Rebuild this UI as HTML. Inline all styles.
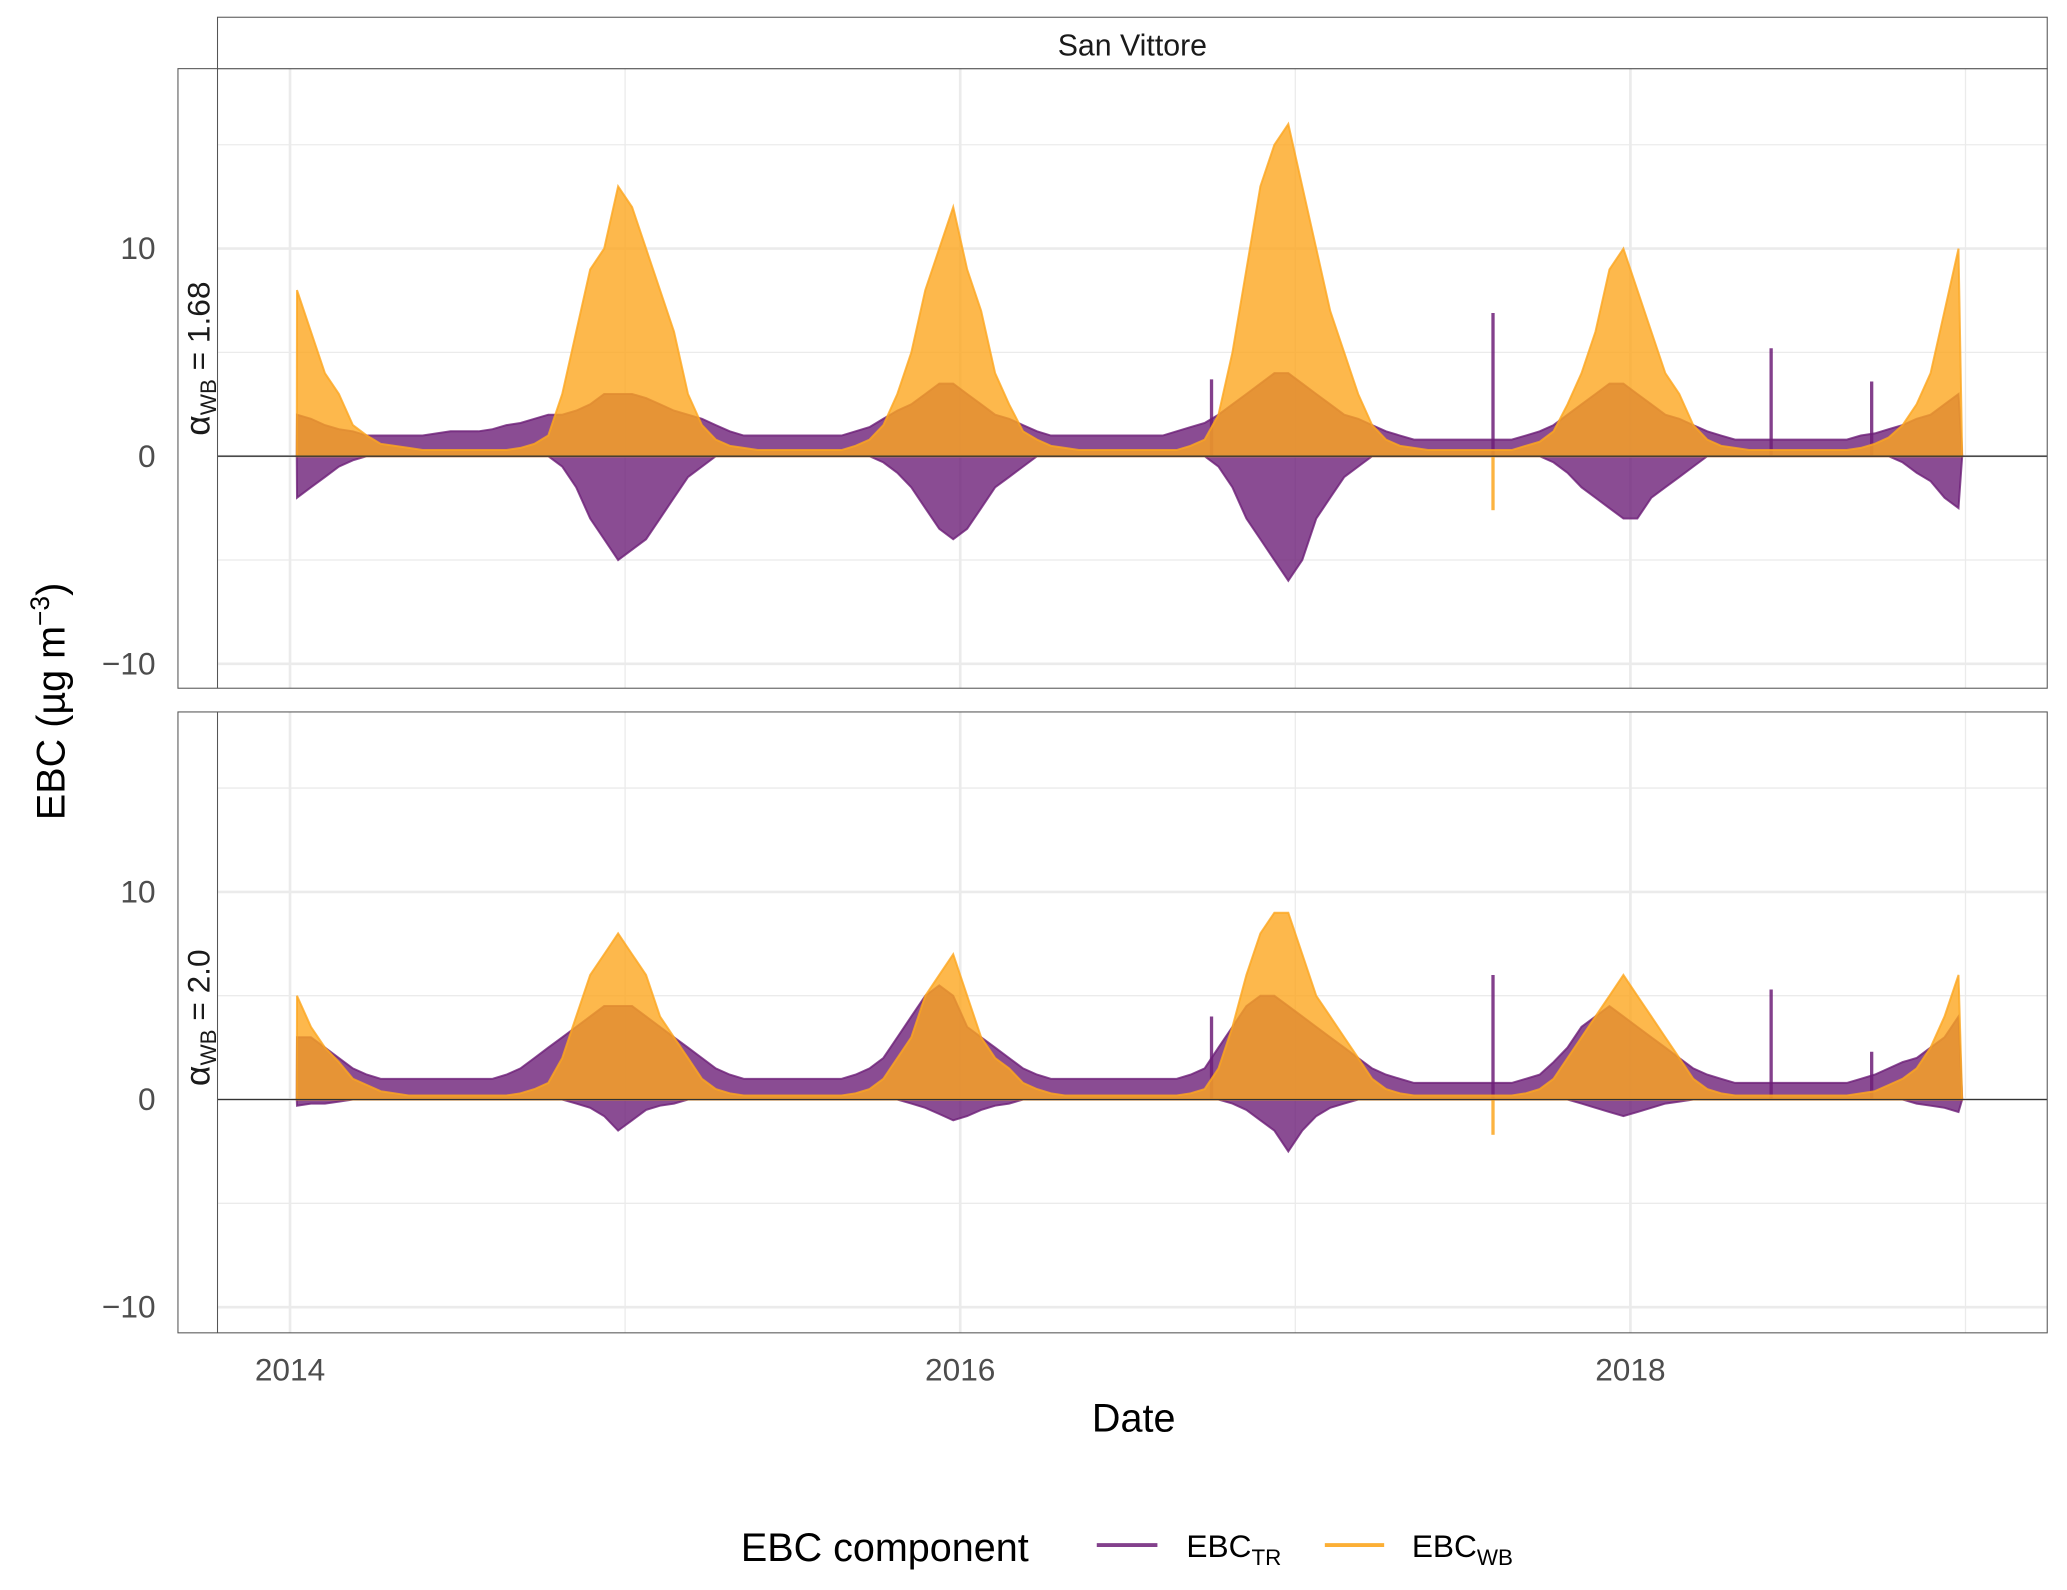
<!DOCTYPE html>
<html><head><meta charset="utf-8"><style>
html,body{margin:0;padding:0;background:#fff}
svg{display:block}
text{font-family:"Liberation Sans","DejaVu Sans",sans-serif}
</style></head><body>
<svg id="chart" width="2067" height="1590" viewBox="0 0 1568 1206" xmlns="http://www.w3.org/2000/svg">
<g id="grid"></g>
<g id="marks"></g>
<g id="frame"></g>
</svg>
<script>
// ---- data (half-month envelope values, Jan 2014 .. Dec 2018) ----
const years = [2014, 2016, 2018];
const yTicks = [-10, 0, 10];
const yMinor = [-5, 5, 15];
const panelLabels = ["1.68", "2.0"];
const wbHiTop = [8,6,4,3,1.5,1,.6,.5,.4,.3,.3,.3,.3,.3,.3,.3,.4,.6,1,3,6,9,10,13,
 12,10,8,6,3,1.5,.8,.5,.4,.3,.3,.3,.3,.3,.3,.3,.5,.8,1.5,3,5,8,10,12,
 9,7,4,2.5,1.2,.8,.5,.4,.3,.3,.3,.3,.3,.3,.3,.3,.5,.8,2,5,9,13,15,16,
 13,10,7,5,3,1.5,.8,.5,.4,.3,.3,.3,.3,.3,.3,.3,.5,.7,1.2,2.5,4,6,9,10,
 8,6,4,3,1.5,.8,.5,.4,.3,.3,.3,.3,.3,.3,.3,.3,.4,.6,.9,1.5,2.5,4,7,10];
const trHiTop = [2,1.8,1.5,1.3,1.2,1,1,1,1,1,1.1,1.2,1.2,1.2,1.3,1.5,1.6,1.8,2,2,2.2,2.5,3,3,
 3,2.8,2.5,2.2,2,1.8,1.5,1.2,1,1,1,1,1,1,1,1,1.2,1.4,1.8,2.2,2.5,3,3.5,3.5,
 3,2.5,2,1.8,1.5,1.2,1,1,1,1,1,1,1,1,1,1.2,1.4,1.6,2,2.5,3,3.5,4,4,
 3.5,3,2.5,2,1.8,1.5,1.2,1,.8,.8,.8,.8,.8,.8,.8,.8,1,1.2,1.5,2,2.5,3,3.5,3.5,
 3,2.5,2,1.8,1.5,1.2,1,.8,.8,.8,.8,.8,.8,.8,.8,.8,1,1.1,1.3,1.5,1.8,2,2.5,3];
const trLoTop = [-2,-1.5,-1,-.5,-.2,0,0,0,0,0,0,0,0,0,0,0,0,0,0,-.5,-1.5,-3,-4,-5,
 -4.5,-4,-3,-2,-1,-.5,0,0,0,0,0,0,0,0,0,0,0,0,-.3,-.8,-1.5,-2.5,-3.5,-4,
 -3.5,-2.5,-1.5,-1,-.5,0,0,0,0,0,0,0,0,0,0,0,0,0,-.5,-1.5,-3,-4,-5,-6,
 -5,-3,-2,-1,-.5,0,0,0,0,0,0,0,0,0,0,0,0,0,-.3,-.8,-1.5,-2,-2.5,-3,
 -3,-2,-1.5,-1,-.5,0,0,0,0,0,0,0,0,0,0,0,0,0,0,-.3,-.8,-1.2,-2,-2.5];
const wbHiBot = [5,3.5,2.5,1.8,1,.7,.4,.3,.2,.2,.2,.2,.2,.2,.2,.2,.3,.5,.8,2,4,6,7,8,
 7,6,4,3,2,1,.5,.3,.2,.2,.2,.2,.2,.2,.2,.2,.3,.5,1,2,3,5,6,7,
 5,3,2,1.5,.8,.5,.3,.2,.2,.2,.2,.2,.2,.2,.2,.2,.3,.5,1.5,3.5,6,8,9,9,
 7,5,4,3,2,1,.5,.3,.2,.2,.2,.2,.2,.2,.2,.2,.3,.5,1,2,3,4,5,6,
 5,4,3,2,1,.5,.3,.2,.2,.2,.2,.2,.2,.2,.2,.2,.3,.4,.7,1,1.5,2.5,4,6];
const trHiBot = [3,3,2.5,2,1.5,1.2,1,1,1,1,1,1,1,1,1,1.2,1.5,2,2.5,3,3.5,4,4.5,4.5,
 4.5,4,3.5,3,2.5,2,1.5,1.2,1,1,1,1,1,1,1,1,1.2,1.5,2,3,4,5,5.5,5,
 3.5,3,2.5,2,1.5,1.2,1,1,1,1,1,1,1,1,1,1,1.2,1.5,2.5,3.5,4.5,5,5,4.5,
 4,3.5,3,2.5,2,1.5,1.2,1,.8,.8,.8,.8,.8,.8,.8,.8,1,1.2,1.8,2.5,3.5,4,4.5,4,
 3.5,3,2.5,2,1.5,1.2,1,.8,.8,.8,.8,.8,.8,.8,.8,.8,1,1.2,1.5,1.8,2,2.5,3,4];
const trLoBot = [-.3,-.2,-.2,-.1,0,0,0,0,0,0,0,0,0,0,0,0,0,0,0,0,-.2,-.4,-.8,-1.5,
 -1,-.5,-.3,-.2,0,0,0,0,0,0,0,0,0,0,0,0,0,0,0,0,-.2,-.4,-.7,-1,
 -.8,-.5,-.3,-.2,0,0,0,0,0,0,0,0,0,0,0,0,0,0,0,-.2,-.5,-1,-1.5,-2.5,
 -1.5,-.8,-.4,-.2,0,0,0,0,0,0,0,0,0,0,0,0,0,0,0,0,-.2,-.4,-.6,-.8,
 -.6,-.4,-.2,-.1,0,0,0,0,0,0,0,0,0,0,0,0,0,0,0,0,-.2,-.3,-.4,-.6];
const spikeDates = [2016.75, 2017.59, 2018.42, 2018.72];
const spikeTop = [3.7, 6.9, 5.2, 3.6];
const spikeBot = [4.0, 6.0, 5.3, 2.3];
const wbDipDate = [2017.59];
const wbDipTop = [-2.6];
const wbDipBot = [-1.7];

const NS = "http://www.w3.org/2000/svg";
const X0 = 165, X1 = 1553;
const panels = [{top:52, bot:522, zero:346, labelY:272}, {top:540, bot:1011, zero:834, labelY:772}];
const PX_PER_UNIT = 15.75;
function xs(t){ return 220 + (t - 2014) * 254.2; }
function ys(p, v){ return panels[p].zero - v * PX_PER_UNIT; }
function el(tag, attrs, parent, txt){
  const e = document.createElementNS(NS, tag);
  for (const k in attrs) e.setAttribute(k, attrs[k]);
  if (txt !== undefined) e.textContent = txt;
  parent.appendChild(e); return e;
}
const grid = document.getElementById('grid');
const marks = document.getElementById('marks');
const frame = document.getElementById('frame');

panels.forEach((P, p) => {
  yMinor.forEach(v => { const l = el('line',{x1:X0,x2:X1,y1:ys(p,v),y2:ys(p,v),stroke:'#ebebeb','stroke-width':1},grid);
      });
  yTicks.forEach(v => { const l = el('line',{x1:X0,x2:X1,y1:ys(p,v),y2:ys(p,v),stroke:'#ebebeb','stroke-width':2},grid);
      });
  [2015,2017,2019].forEach(y => { const l = el('line',{x1:xs(y),x2:xs(y),y1:P.top,y2:P.bot,stroke:'#ebebeb','stroke-width':1},grid);
      });
  years.forEach(y => { const l = el('line',{x1:xs(y),x2:xs(y),y1:P.top,y2:P.bot,stroke:'#ebebeb','stroke-width':2},grid);
      });
});

function band(p, hi, lo, color, name){
  const n = hi.length; let pts = [];
  for (let i=0;i<n;i++){ const t = 2014 + (i+0.5)/24; pts.push(xs(t).toFixed(1)+','+ys(p,hi[i]).toFixed(1)); }
  pts.unshift(xs(2014.02).toFixed(1)+','+ys(p,0)); pts.push(xs(2018.99).toFixed(1)+','+ys(p,0));
  for (let i=n-1;i>=0;i--){ const t = 2014 + (i+0.5)/24; pts.push(xs(t).toFixed(1)+','+ys(p,lo ? lo[i] : 0).toFixed(1)); }
  const g = el('polygon',{points:pts.join(' '),fill:color,'fill-opacity':0.8,stroke:color,'stroke-width':1.5,'stroke-opacity':0.8},marks);
   
}
function spikes(p, dates, vals, color, name){
  dates.forEach((d,i)=>{ const l = el('line',{x1:xs(d),x2:xs(d),y1:ys(p,0),y2:ys(p,vals[i]),stroke:color,'stroke-width':2.5,'stroke-opacity':0.85},marks);
      });
}
const PUR = '#6d1f78', ORA = '#fca61f';
band(0, trHiTop, trLoTop, PUR, 'ebc-tr-series-top');
spikes(0, spikeDates, spikeTop, PUR, 'ebc-tr-spike');
band(0, wbHiTop, null, ORA, 'ebc-wb-series-top');
spikes(0, wbDipDate, wbDipTop, ORA, 'ebc-wb-spike');
band(1, trHiBot, trLoBot, PUR, 'ebc-tr-series-bottom');
spikes(1, spikeDates, spikeBot, PUR, 'ebc-tr-spike');
band(1, wbHiBot, null, ORA, 'ebc-wb-series-bottom');
spikes(1, wbDipDate, wbDipBot, ORA, 'ebc-wb-spike');

panels.forEach((P, p) => {
  let z = el('line',{x1:X0,x2:X1,y1:P.zero,y2:P.zero,stroke:'#333','stroke-width':1},frame);
   
  let r = el('rect',{x:135,y:P.top,width:X1-135,height:P.bot-P.top,fill:'none',stroke:'#555','stroke-width':0.8},frame);
   
  let lv = el('line',{x1:X0,x2:X0,y1:P.top,y2:P.bot,stroke:'#555','stroke-width':0.8},frame);
   
  yTicks.forEach(v => { const t = el('text',{x:118,y:ys(p,v)+8,'text-anchor':'end','font-size':24,fill:'#4d4d4d'},frame, v<0 ? '\u2212'+Math.abs(v) : String(v));
      });
  const lt = el('text',{transform:`translate(159,${P.labelY}) rotate(-90)`,'text-anchor':'middle','font-size':24,fill:'#1a1a1a'},frame);
   
  el('tspan',{'font-size':27},lt,'\u03B1');
  el('tspan',{'font-size':17,dy:5},lt,'WB');
  el('tspan',{dy:-5},lt,' = '+panelLabels[p]);
});
let sr = el('rect',{x:X0,y:13,width:X1-X0,height:39,fill:'#fff',stroke:'#555','stroke-width':0.8},frame);
 
let st = el('text',{x:(X0+X1)/2,y:42,'text-anchor':'middle','font-size':23,fill:'#1a1a1a'},frame,'San Vittore');
 
years.forEach(y => { const t = el('text',{x:xs(y),y:1047,'text-anchor':'middle','font-size':24,fill:'#4d4d4d'},frame,String(y));
    });
let xt = el('text',{x:860,y:1086,'text-anchor':'middle','font-size':30,fill:'#000'},frame,'Date');
 
const yt = el('text',{transform:'translate(49,532) rotate(-90)','text-anchor':'middle','font-size':30,fill:'#000'},frame);
 
el('tspan',{},yt,'EBC (\u00B5g m');
el('tspan',{'font-size':20,dy:-12},yt,'\u22123');
el('tspan',{dy:12},yt,')');
// legend
let lg = el('text',{x:562,y:1184,'font-size':30,fill:'#000'},frame,'EBC component');
 
let l1 = el('line',{x1:832,x2:878,y1:1172,y2:1172,stroke:PUR,'stroke-width':3,'stroke-opacity':0.85},frame);
 
let t1 = el('text',{x:900,y:1181,'font-size':24,fill:'#000'},frame);
 
el('tspan',{},t1,'EBC'); el('tspan',{'font-size':17,dy:6},t1,'TR');
let l2 = el('line',{x1:1005,x2:1050,y1:1172,y2:1172,stroke:ORA,'stroke-width':3,'stroke-opacity':0.9},frame);
 
let t2 = el('text',{x:1071,y:1181,'font-size':24,fill:'#000'},frame);
 
el('tspan',{},t2,'EBC'); el('tspan',{'font-size':17,dy:6},t2,'WB');
</script>
</body></html>
